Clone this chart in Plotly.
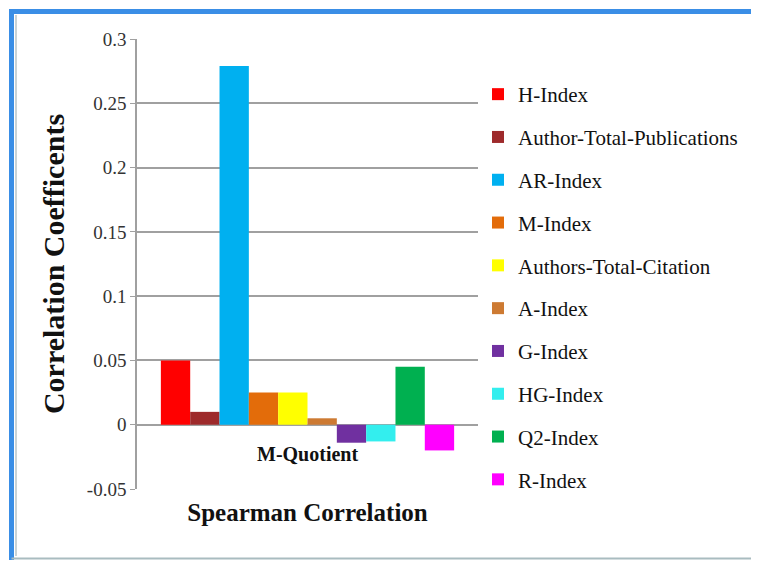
import plotly.graph_objects as go

category = ["M-Quotient"]
series_names = ["H-Index", "Author-Total-Publications", "AR-Index", "M-Index",
                "Authors-Total-Citation", "A-Index", "G-Index", "HG-Index",
                "Q2-Index", "R-Index"]
series_values = [0.050, 0.010, 0.279, 0.025, 0.025, 0.005, -0.014, -0.013, 0.045, -0.020]
series_colors = ["#FF0000", "#9E2A2B", "#00B0F0", "#E36C0A", "#FFFF00",
                 "#CD7A32", "#7030A0", "#33EEEE", "#00B050", "#FF00FF"]
tick_values = [-0.05, 0, 0.05, 0.1, 0.15, 0.2, 0.25, 0.3]
tick_labels = ["-0.05", "0", "0.05", "0.1", "0.15", "0.2", "0.25", "0.3"]

FONT = "Liberation Serif"

fig = go.Figure()
for name, val, col in zip(series_names, series_values, series_colors):
    fig.add_trace(go.Bar(x=category, y=[val], name=name, marker_color=col,
                         marker_line_width=0, legendgroup=name))

# page is offset by the 8px body margin
OFF = 8
W, H = 759, 563
L, R, T, B = 137 - OFF, 478 - OFF, 39 - OFF, 489 - OFF
pw, ph = R - L, B - T

def px(x):
    return (x - OFF - L) / pw

def py(y):
    return (B - (y - OFF)) / ph

fig.update_layout(
    width=W, height=H,
    margin=dict(l=L, r=W - R, t=T, b=H - B, pad=0),
    paper_bgcolor="white", plot_bgcolor="white",
    barmode="group", bargap=0.14, bargroupgap=0,
    font=dict(family=FONT, color="#222222", size=19),
    showlegend=True,
    legend=dict(x=px(478), xanchor="left", y=py(74), yanchor="top",
                font=dict(family=FONT, size=21, color="#111111"),
                tracegroupgap=12.5, bgcolor="rgba(0,0,0,0)", traceorder="grouped"),
    xaxis=dict(showticklabels=False, showgrid=False, zeroline=False,
               showline=False, ticks="",
               title=dict(text="<b>Spearman Correlation</b>",
                          font=dict(family=FONT, size=25, color="#111111"),
                          standoff=14)),
    yaxis=dict(range=[-0.05, 0.3], tickvals=tick_values, ticktext=tick_labels,
               showgrid=True, gridcolor="#a0a0a0", gridwidth=1.5,
               zeroline=True, zerolinecolor="#a0a0a0", zerolinewidth=1.5,
               showline=True, linecolor="#a0a0a0", linewidth=1.5,
               ticks="outside", ticklen=5, tickcolor="#a0a0a0",
               tickfont=dict(family=FONT, size=19, color="#333333"),
               title=dict(text="<b>Correlation Coefficents</b>",
                          font=dict(family=FONT, size=30, color="#111111"),
                          standoff=13)),
)

fig.add_annotation(x=category[0], y=0, xref="x", yref="y", yanchor="top",
                   yshift=-16, showarrow=False,
                   text="<b>M-Quotient</b>",
                   font=dict(family=FONT, size=20, color="#111111"))

# outer frame
fig.add_shape(type="line", xref="paper", yref="paper",
              x0=px(11.5), x1=px(775), y0=py(11.5), y1=py(11.5),
              line=dict(color="#3A8EE6", width=5))
fig.add_shape(type="line", xref="paper", yref="paper",
              x0=px(11.5), x1=px(11.5), y0=py(9), y1=py(560),
              line=dict(color="#3A8EE6", width=5))
fig.add_shape(type="line", xref="paper", yref="paper",
              x0=px(16), x1=px(16), y0=py(15), y1=py(556),
              line=dict(color="#b8c4c8", width=1.5))
fig.add_shape(type="line", xref="paper", yref="paper",
              x0=px(11.5), x1=px(775), y0=py(558.5), y1=py(558.5),
              line=dict(color="#a9bcc0", width=2))

fig.write_html("out.html")
